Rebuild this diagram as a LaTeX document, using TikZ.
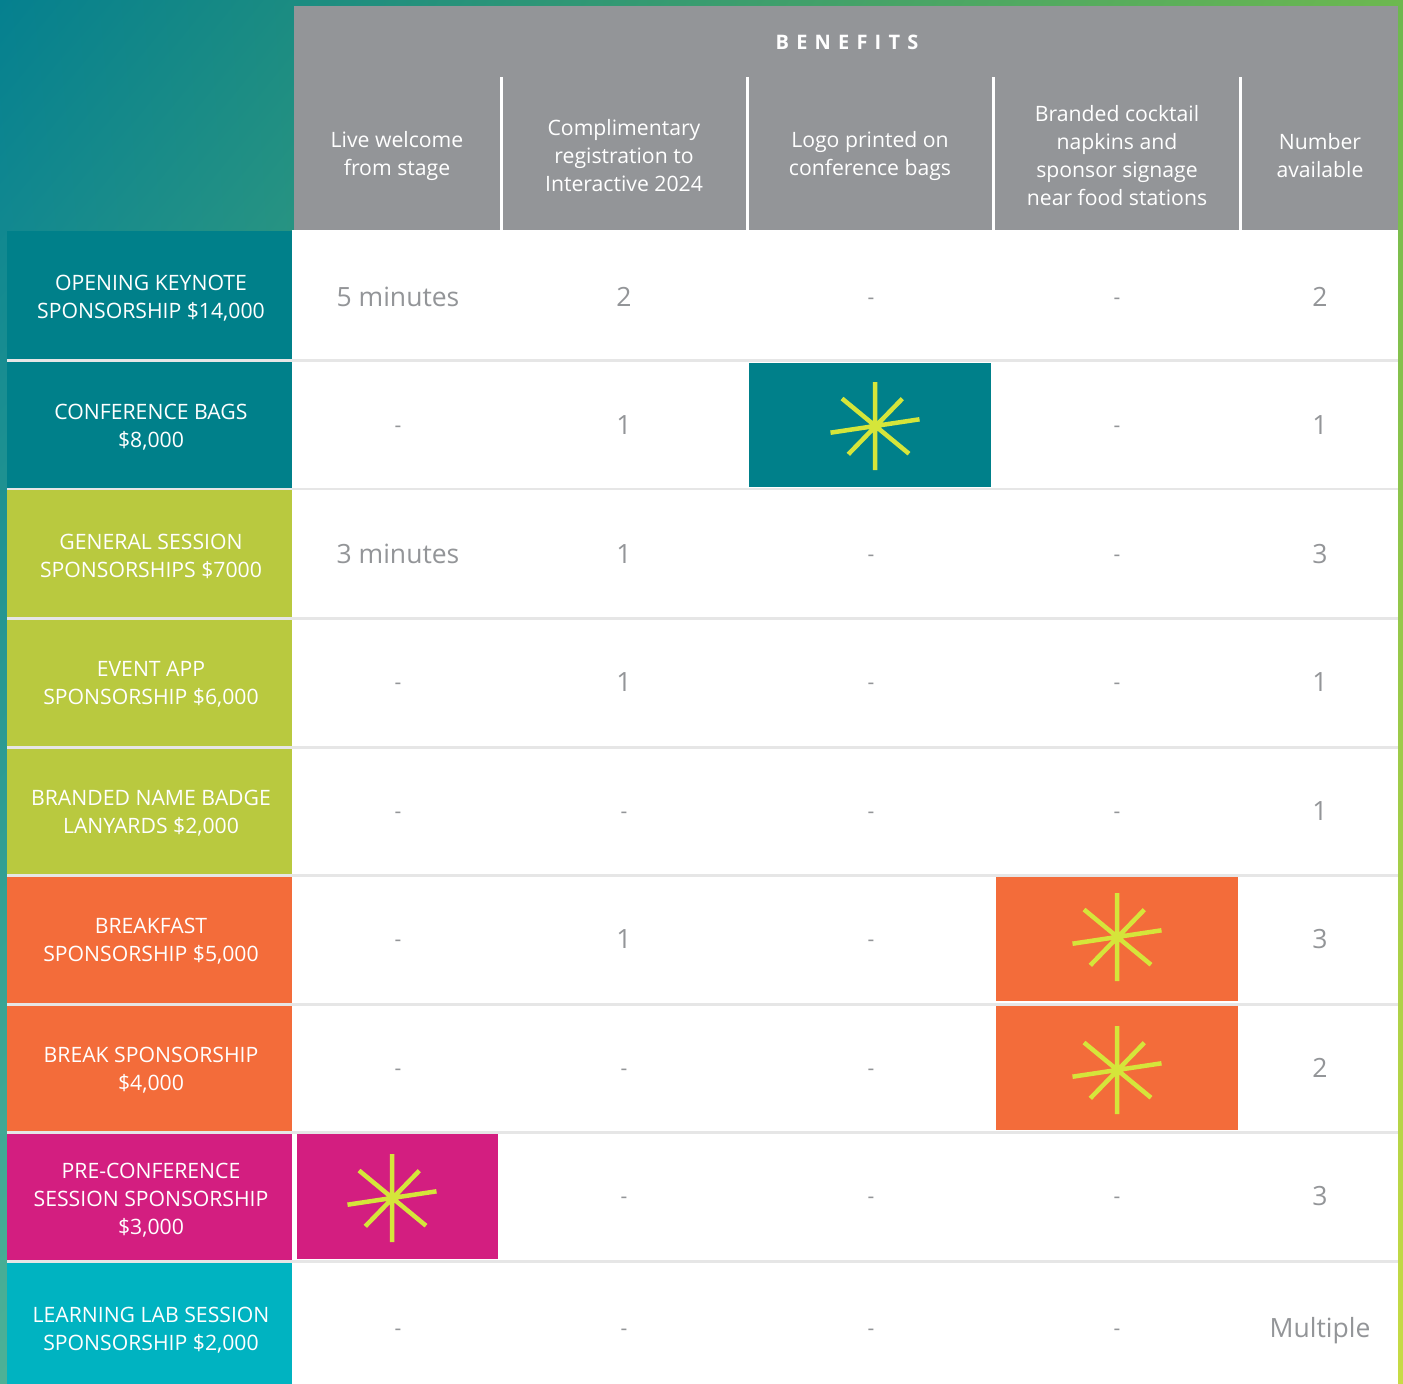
\documentclass[tikz,border=0pt]{standalone}
\usepackage{fontspec}
\usetikzlibrary{shadings}
\setmainfont{Open Sans}
\newfontfamily\spacedfont[LetterSpace=36]{Open Sans}
\definecolor{cTeal}{HTML}{00808A}
\definecolor{cLime}{HTML}{B9C93F}
\definecolor{cOrange}{HTML}{F36C3A}
\definecolor{cMagenta}{HTML}{D31E80}
\definecolor{cCyan}{HTML}{00B3C1}
\definecolor{cHead}{HTML}{939598}
\definecolor{cText}{HTML}{939598}
\definecolor{cSep}{HTML}{E6E6E6}
\definecolor{cStar}{HTML}{D5E53A}
\definecolor{gTL}{HTML}{05808F}
\definecolor{gTR}{HTML}{6DB84F}
\definecolor{gBL}{HTML}{4DB196}
\definecolor{gBR}{HTML}{C8DB45}
\begin{document}
\begin{tikzpicture}[x=1pt,y=-1pt,
  hdr/.style={text=white, font=\fontsize{21.2}{28}\selectfont, align=center, inner sep=0pt},
  lbl/.style={text=white, font=\fontsize{21.2}{28}\selectfont, align=center, inner sep=0pt},
  val/.style={text=cText, font=\fontsize{26.5}{30}\selectfont, anchor=base, inner sep=0pt},
  dsh/.style={text=cText, font=\fontsize{21}{24}\selectfont, inner sep=0pt},
  vline/.style={white, line width=3pt},
  astx/.pic={\draw[cStar, line width=4.5pt] (0,-44)--(0,44) (-44.5,6.7)--(44.5,-6.7) (-33,-27.5)--(34,27.7) (27.3,-27.3)--(-26.7,28.3);}
]
\useasboundingbox (0,0) rectangle (1403,1384);
\shade[upper left=gTL, upper right=gTR, lower left=gBL, lower right=gBR] (0,0) rectangle (1403,1384);
% header
\fill[cHead] (294,6) rectangle (1398,230);
\coordinate (h1t) at (501,77); \coordinate (h1b) at (501,230);
\coordinate (h2t) at (747,77); \coordinate (h2b) at (747,230);
\coordinate (h3t) at (993,77); \coordinate (h3b) at (993,230);
\coordinate (h4t) at (1240,77); \coordinate (h4b) at (1240,230);
\draw[vline] (h1t)--(h1b) (h2t)--(h2b) (h3t)--(h3b) (h4t)--(h4b);
\node[text=white, font=\spacedfont\bfseries\fontsize{20}{22}\selectfont, inner sep=0pt] (benefits) at (847,42) {BENEFITS};
\node[hdr] (hc1) at (397,156) {Live welcome\\from stage};
\node[hdr] (hc2) at (624,156) {Complimentary\\registration to\\Interactive 2024};
\node[hdr] (hc3) at (870,156) {Logo printed on\\conference bags};
\node[hdr] (hc4) at (1117,156) {Branded cocktail\\napkins and\\sponsor signage\\near food stations};
\node[hdr] (hc5) at (1320,156) {Number\\available};
% body
\fill[cSep] (7,231) rectangle (1398,1384);
\fill[cTeal] (7,231) rectangle (292,359);   \fill[white] (292,230) rectangle (1398,359);
\fill[cTeal] (7,362) rectangle (292,488);   \fill[white] (292,362) rectangle (1398,488);
\fill[cLime] (7,490) rectangle (292,616.5);   \fill[white] (292,490) rectangle (1398,616.5);
\fill[cLime] (7,619.5) rectangle (292,745.5);   \fill[white] (292,619.5) rectangle (1398,745.5);
\fill[cLime] (7,748.5) rectangle (292,873.5);   \fill[white] (292,748.5) rectangle (1398,873.5);
\fill[cOrange] (7,876.5) rectangle (292,1002.5); \fill[white] (292,876.5) rectangle (1398,1002.5);
\fill[cOrange] (7,1005.5) rectangle (292,1131); \fill[white] (292,1005.5) rectangle (1398,1131);
\fill[cMagenta] (7,1134) rectangle (292,1260); \fill[white] (292,1134) rectangle (1398,1260);
\fill[cCyan] (7,1263) rectangle (292,1384); \fill[white] (292,1263) rectangle (1398,1384);
% highlighted cells
\fill[cTeal] (749,363) rectangle (991,487);
\fill[cOrange] (996,877) rectangle (1238,1001);
\fill[cOrange] (996,1006) rectangle (1238,1130);
\fill[cMagenta] (297,1134) rectangle (498,1259);
\pic at (875,426) {astx};
\pic at (1117,937) {astx};
\pic at (1117,1070) {astx};
\pic at (392,1198) {astx};
% row labels
\node[lbl] (l1) at (151,298) {OPENING KEYNOTE\\SPONSORSHIP \$14,000};
\node[lbl] (l2) at (151,427) {CONFERENCE BAGS\\\$8,000};
\node[lbl] (l3) at (151,556) {GENERAL SESSION\\SPONSORSHIPS \$7000};
\node[lbl] (l4) at (151,684) {EVENT APP\\SPONSORSHIP \$6,000};
\node[lbl] (l5) at (151,813) {BRANDED NAME BADGE\\LANYARDS \$2,000};
\node[lbl] (l6) at (151,941) {BREAKFAST\\SPONSORSHIP \$5,000};
\node[lbl] (l7) at (151,1070) {BREAK SPONSORSHIP\\\$4,000};
\node[lbl] (l8) at (151,1200) {PRE-CONFERENCE\\SESSION SPONSORSHIP\\\$3,000};
\node[lbl] (l9) at (151,1330) {LEARNING LAB SESSION\\SPONSORSHIP \$2,000};
% row 1
\node[val] (v11) at (398,306) {5 minutes};
\node[val] (v12) at (624,306) {2};
\node[dsh] (v13) at (871,301) {-};
\node[dsh] (v14) at (1117,301) {-};
\node[val] (v15) at (1320,306) {2};
% row 2
\node[dsh] (v21) at (398,429) {-};
\node[val] (v22) at (624,434) {1};
\node[dsh] (v24) at (1117,429) {-};
\node[val] (v25) at (1320,434) {1};
% row 3
\node[val] (v31) at (398,563) {3 minutes};
\node[val] (v32) at (624,563) {1};
\node[dsh] (v33) at (871,558) {-};
\node[dsh] (v34) at (1117,558) {-};
\node[val] (v35) at (1320,563) {3};
% row 4
\node[dsh] (v41) at (398,686) {-};
\node[val] (v42) at (624,691) {1};
\node[dsh] (v43) at (871,686) {-};
\node[dsh] (v44) at (1117,686) {-};
\node[val] (v45) at (1320,691) {1};
% row 5
\node[dsh] (v51) at (398,815) {-};
\node[dsh] (v52) at (624,815) {-};
\node[dsh] (v53) at (871,815) {-};
\node[dsh] (v54) at (1117,815) {-};
\node[val] (v55) at (1320,820) {1};
% row 6
\node[dsh] (v61) at (398,943) {-};
\node[val] (v62) at (624,948) {1};
\node[dsh] (v63) at (871,943) {-};
\node[val] (v65) at (1320,948) {3};
% row 7
\node[dsh] (v71) at (398,1072) {-};
\node[dsh] (v72) at (624,1072) {-};
\node[dsh] (v73) at (871,1072) {-};
\node[val] (v75) at (1320,1077) {2};
% row 8
\node[dsh] (v82) at (624,1200) {-};
\node[dsh] (v83) at (871,1200) {-};
\node[dsh] (v84) at (1117,1200) {-};
\node[val] (v85) at (1320,1205) {3};
% row 9
\node[dsh] (v91) at (398,1332) {-};
\node[dsh] (v92) at (624,1332) {-};
\node[dsh] (v93) at (871,1332) {-};
\node[dsh] (v94) at (1117,1332) {-};
\node[val] (v95) at (1320,1337) {Multiple};
\end{tikzpicture}
\end{document}
